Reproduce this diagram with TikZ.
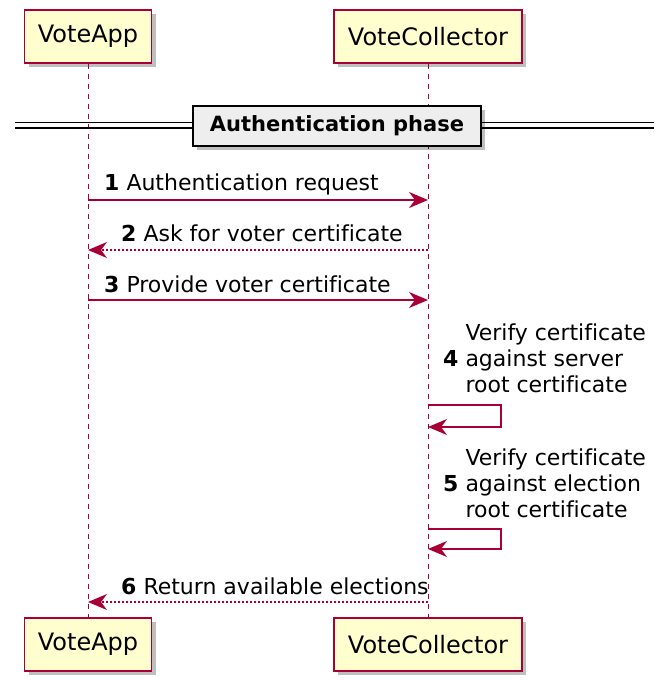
\documentclass[tikz,border=0pt]{standalone}
\usepackage{fontspec}
\setmainfont[Ligatures=NoCommon]{DejaVu Sans}
\usepackage{xcolor}
\usetikzlibrary{arrows.meta}
\usetikzlibrary{shadows}
\definecolor{umlred}{HTML}{A80036}
\definecolor{umlbox}{HTML}{FEFECE}
\definecolor{umlgray}{HTML}{EEEEEE}

\begin{document}
\begin{tikzpicture}[x=1pt,y=-1pt,
  participant/.style={draw=umlred, fill=umlbox, line width=1.2pt, minimum height=53pt, inner sep=0pt,
    font=\fontsize{24}{28}\selectfont, drop shadow={shadow xshift=4pt, shadow yshift=-4pt, fill=black, opacity=0.25}},
  lifeline/.style={umlred, line width=0.9pt, dash pattern=on 5pt off 5pt},
  msg/.style={umlred, line width=1.2pt, -{Stealth[length=19pt,width=16pt,inset=6pt]}},
  reply/.style={msg, dash pattern=on 2pt off 2pt},
  msglabel/.style={anchor=base west, inner sep=0pt, font=\fontsize{22}{26}\selectfont}]
\useasboundingbox (0,0) rectangle (654,688);

\node [participant, minimum width=127pt] (app) at (88,36.5) {VoteApp};
\node [participant, minimum width=188pt] (col) at (428,36.5) {VoteCollector};
\node [participant, minimum width=127pt] (appB) at (88,644.5) {VoteApp};
\node [participant, minimum width=188pt] (colB) at (428,644.5) {VoteCollector};
\draw [lifeline] (app) -- (appB);
\draw [lifeline] (col) -- (colB);

% divider
\draw [black, line width=1.3pt] (15,122.5) -- (654,122.5);
\draw [black, line width=1.3pt] (15,128) -- (654,128);
\node [draw=black, fill=umlgray, line width=2pt, minimum width=288pt, minimum height=40pt,
  font=\fontsize{21}{25}\bfseries\selectfont, drop shadow={shadow xshift=4pt, shadow yshift=-4pt, fill=black, opacity=0.25}]
  (phase) at (337,126) {Authentication phase};

\coordinate (a1) at (app |- 0,200);   \coordinate (c1) at (col |- 0,200);
\coordinate (a2) at (app |- 0,250);   \coordinate (c2) at (col |- 0,250);
\coordinate (a3) at (app |- 0,300);   \coordinate (c3) at (col |- 0,300);
\coordinate (c4) at (col |- 0,405);   \coordinate (c4e) at (col |- 0,427);
\coordinate (c5) at (col |- 0,529);   \coordinate (c5e) at (col |- 0,549);
\coordinate (a6) at (app |- 0,602);   \coordinate (c6) at (col |- 0,602);

\draw [msg] (a1) -- (c1);
\node [msglabel] (l1) at (104,190) {\textbf{1} Authentication request};
\draw [reply] (c2) -- (a2);
\node [msglabel] (l2) at (121,241) {\textbf{2} Ask for voter certificate};
\draw [msg] (a3) -- (c3);
\node [msglabel] (l3) at (104,292) {\textbf{3} Provide voter certificate};

\draw [msg] (c4) -- ++(73,0) |- (c4e);
\node [msglabel, anchor=west] (l4) at (443,361) {\begin{tabular}{@{}l@{ }l@{}}
  & Verify certificate\\ \textbf{4} & against server\\ & root certificate\end{tabular}};
\draw [msg] (c5) -- ++(73,0) |- (c5e);
\node [msglabel, anchor=west] (l5) at (443,486) {\begin{tabular}{@{}l@{ }l@{}}
  & Verify certificate\\ \textbf{5} & against election\\ & root certificate\end{tabular}};

\draw [reply] (c6) -- (a6);
\node [msglabel] (l6) at (121,594) {\textbf{6} Return available elections};

\end{tikzpicture}
\end{document}
